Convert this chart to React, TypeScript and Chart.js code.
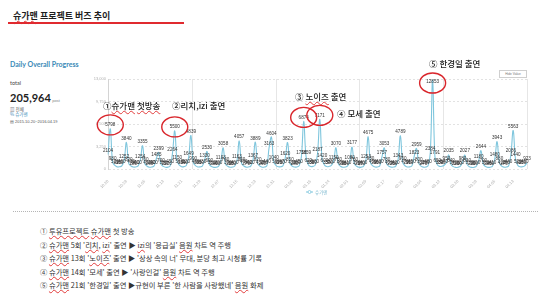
import React, { useEffect, useRef } from 'react';
import { Chart, registerables } from 'chart.js';

Chart.register(...registerables);

// ---- data ----
const SERIES_NAME = '슈가맨';
const START = { year: 2015, month: 10, day: 20 };
const TICK_EVERY = 8;
const Y_MAX = 13000;
const Y_STEP = 3250;

// daily buzz values 2015.10.20 ~ 2016.04.19 (Tue, Wed, Thu, Fri, Sat, Sun, Mon per row)
const VALUES: number[] = [
  2104, 5798, 980, 520, 310, 330, 460,
  1252, 3840, 820, 430, 280, 300, 410,
  1254, 3355, 760, 400, 260, 290, 420,
  1485, 2399, 700, 380, 250, 270, 450,
  2264, 5500, 1150, 560, 330, 340, 520,
  1649, 4839, 990, 480, 300, 310, 430,
  1330, 2530, 690, 360, 240, 260, 390,
  1103, 3058, 740, 390, 250, 280, 400,
  1163, 4057, 860, 430, 270, 300, 420,
  1367, 3889, 820, 410, 260, 290, 440,
  3163, 4604, 1040, 500, 320, 330, 470,
  1620, 3823, 850, 420, 280, 300, 450,
  1756, 6874, 1859, 620, 360, 380, 560,
  2187, 7171, 1420, 600, 350, 370, 520,
  1150, 3070, 780, 400, 260, 280, 410,
  1080, 3177, 760, 390, 250, 270, 400,
  1253, 4675, 930, 460, 290, 300, 430,
  1757, 3053, 780, 400, 270, 280, 420,
  1343, 4789, 960, 470, 290, 310, 450,
  1823, 2959, 800, 410, 270, 290, 460,
  2384, 12853, 1791, 650, 380, 390, 540,
  950, 2035, 640, 340, 230, 250, 380,
  980, 2027, 630, 330, 230, 250, 390,
  1180, 2644, 700, 360, 240, 260, 410,
  1480, 3943, 880, 420, 270, 290, 440,
  2086, 5563, 1440, 520, 320, 330, 460,
  923,
];

// dates of annotated episode peaks (circled)
const HIGHLIGHT_DATES = ['10.21', '11.18', '01.13', '01.20', '03.09'];

const DATES: string[] = (() => {
  const out: string[] = [];
  const d = new Date(START.year, START.month - 1, START.day);
  for (let i = 0; i < VALUES.length; i++) {
    out.push(String(d.getMonth() + 1).padStart(2, '0') + '.' + String(d.getDate()).padStart(2, '0'));
    d.setDate(d.getDate() + 1);
  }
  return out;
})();

const ANNOTATIONS = [
  { text: ['①', '슈가맨', ' ', '첫방송'], wavy: [1, 3], left: 103, cy: 105 },
  { text: ['②리치,izi 출연'], wavy: [], left: 172, cy: 105 },
  { text: ['③ ', '노이즈', ' 출연'], wavy: [1], left: 295, cy: 96 },
  { text: ['④ 모세 출연'], wavy: [], left: 337, cy: 113 },
  { text: ['⑤ 한경일 출연'], wavy: [], left: 429, cy: 63 },
];

const NOTES: { parts: string[]; wavy: number[] }[] = [
  { parts: ['① ', '투유프로젝트', ' ', '슈가맨', ' 첫 방송'], wavy: [1, 3] },
  { parts: ['② ', '슈가맨', " 5회 '", '리치', ', ', 'izi', "' 출연 ▶ ", 'izi', "의 '응급실' ", '음원', ' 차트 역 주행'], wavy: [1, 3, 5, 7, 9] },
  { parts: ['③ ', '슈가맨', " 13회 '", '노이즈', "' 출연 ▶ '상상 속의 너' 무대, 분당 최고 시청률 기록"], wavy: [1, 3] },
  { parts: ['④ ', '슈가맨', " 14회 '모세' 출연 ▶ '사랑인걸' ", '음원', ' 차트 역 주행'], wavy: [1, 3] },
  { parts: ['⑤ ', '슈가맨', " 21회 '한경일' 출연 ▶규현이 부른 '한 사람을 사랑했네' ", '음원', ' 화제'], wavy: [1, 3] },
];
const NOTE_TOPS = [232, 245.5, 259, 272.5, 286];

const KR = '"Noto Sans CJK KR", "Noto Sans", sans-serif';
const LINE_COLOR = '#7fc6dd';

const overlayPlugin = {
  id: 'overlay',
  beforeDatasetsDraw(chart: any) {
    const { ctx, chartArea } = chart;
    ctx.save();
    ctx.strokeStyle = '#e6e6e6';
    ctx.lineWidth = 1;
    for (let k = 1; k <= 5; k++) {
      const x = Math.round(chartArea.left + ((chartArea.right - chartArea.left) * k) / 5) + 0.5;
      ctx.beginPath();
      ctx.moveTo(x, chartArea.top);
      ctx.lineTo(x, chartArea.bottom);
      ctx.stroke();
    }
    ctx.restore();
  },
  afterDatasetsDraw(chart: any) {
    const { ctx, chartArea } = chart;
    const meta = chart.getDatasetMeta(0);
    ctx.save();
    ctx.font = '4.6px Arial, "Liberation Sans", sans-serif';
    ctx.fillStyle = '#333';
    ctx.textAlign = 'center';
    ctx.textBaseline = 'bottom';
    meta.data.forEach((pt: any, i: number) => {
      let y = pt.y - 1.5;
      if (y - 5 < chartArea.top) y = chartArea.top + 5.5;
      ctx.fillText(String(VALUES[i]), pt.x, y);
    });
    ctx.strokeStyle = '#d9262c';
    ctx.lineWidth = 1.4;
    HIGHLIGHT_DATES.forEach((lab) => {
      const i = DATES.indexOf(lab);
      if (i < 0) return;
      const p = meta.data[i];
      let cy = p.y - 4;
      if (cy - 8 < chartArea.top) cy = chartArea.top + 4;
      ctx.beginPath();
      ctx.ellipse(p.x, cy, 13, 10, 0, 0, Math.PI * 2);
      ctx.stroke();
    });
    ctx.restore();
  },
};

function ChartCanvas() {
  const ref = useRef<HTMLCanvasElement | null>(null);
  useEffect(() => {
    if (!ref.current) return;
    const chart = new Chart(ref.current, {
      type: 'line',
      data: {
        labels: DATES,
        datasets: [
          {
            label: SERIES_NAME,
            data: VALUES,
            borderColor: LINE_COLOR,
            borderWidth: 1.1,
            pointRadius: 0,
            tension: 0.4,
            fill: false,
          },
        ],
      },
      options: {
        animation: false,
        responsive: false,
        maintainAspectRatio: false,
        layout: { padding: { top: 11, right: 15, bottom: 3, left: 0 } },
        plugins: { legend: { display: false }, tooltip: { enabled: false } },
        scales: {
          x: {
            grid: { display: false },
            border: { display: false },
            ticks: {
              autoSkip: false,
              maxRotation: 45,
              minRotation: 45,
              color: '#aaa',
              padding: 2,
              font: { size: 4, family: 'Arial' },
              callback: (_v: any, idx: number) => (idx % TICK_EVERY === 0 ? DATES[idx] : null),
            },
            afterFit: (s: any) => {
              s.height = 20;
            },
          },
          y: {
            min: 0,
            max: Y_MAX,
            ticks: { stepSize: Y_STEP, color: '#b0b0b0', padding: 2, font: { size: 4, family: 'Arial' } },
            grid: { color: '#e2e2e2', drawTicks: false },
            border: { display: true, color: '#d4d4d4', dash: [2, 2] },
            afterFit: (s: any) => {
              s.width = 28;
            },
          },
        },
      } as any,
      plugins: [overlayPlugin],
    });
    return () => chart.destroy();
  }, []);
  return (
    <canvas
      ref={ref}
      width={462}
      height={124}
      style={{ position: 'absolute', left: 80, top: 68, width: 462, height: 124 }}
    />
  );
}

function Txt(props: { left: number; cy: number; size: number; style?: any; children: any }) {
  return (
    <div
      style={{
        position: 'absolute',
        left: props.left,
        top: props.cy - props.size / 2,
        fontSize: props.size,
        lineHeight: props.size + 'px',
        whiteSpace: 'nowrap',
        ...props.style,
      }}
    >
      {props.children}
    </div>
  );
}

const wavyStyle = { textDecoration: 'underline wavy #e23b3b', textDecorationThickness: '0.6px' };

export default function App() {
  return (
    <div
      style={{
        position: 'fixed',
        left: 0,
        top: 0,
        width: 550,
        height: 306,
        background: '#fff',
        overflow: 'hidden',
        fontFamily: KR,
        color: '#222',
      }}
    >
      {/* title */}
      <Txt left={13} cy={15} size={9} style={{ fontWeight: 700, color: '#1e1e1e' }}>
        <span style={wavyStyle}>슈가맨</span> 프로젝트 버즈 추이
      </Txt>
      <div style={{ position: 'absolute', left: 8, top: 22, width: 176, height: 1.6, background: '#e02a2f' }} />

      {/* left summary panel */}
      <Txt left={10} cy={64} size={7} style={{ fontFamily: 'Lato, sans-serif', fontWeight: 700, color: '#3b8ab7' }}>
        Daily Overall Progress
      </Txt>
      <Txt left={10} cy={84} size={5.5} style={{ fontFamily: 'Lato, sans-serif', color: '#444' }}>
        total
      </Txt>
      <Txt left={10} cy={97} size={11} style={{ fontFamily: 'Lato, sans-serif', fontWeight: 700, color: '#222' }}>
        205,964
        <span style={{ fontSize: 4, fontWeight: 400, color: '#888', marginLeft: 1.5 }}>post</span>
      </Txt>
      <Txt left={10} cy={109} size={4.5} style={{ color: '#555' }}>
        ▥ 전체
      </Txt>
      <Txt left={10} cy={114} size={4.5} style={{ color: '#3b8ab7' }}>
        % 슈가맨
      </Txt>
      <Txt left={10} cy={121.5} size={4} style={{ color: '#555', fontFamily: 'Arial' }}>
        ▤ 2015.10.20~2016.04.19
      </Txt>

      <ChartCanvas />

      {/* hide value button */}
      <div
        style={{
          position: 'absolute',
          left: 499,
          top: 70,
          width: 26,
          height: 6,
          border: '0.7px solid #cfcfcf',
          fontSize: 3.2,
          lineHeight: '6px',
          textAlign: 'center',
          color: '#777',
          fontFamily: 'Arial',
          background: '#fff',
        }}
      >
        Hide Value
      </div>

      {/* legend */}
      <div style={{ position: 'absolute', left: 306, top: 189, height: 6, display: 'flex', alignItems: 'center' }}>
        <svg width={7} height={6} style={{ display: 'block' }}>
          <line x1={0} y1={3} x2={7} y2={3} stroke={LINE_COLOR} strokeWidth={1} />
          <circle cx={3.5} cy={3} r={1.5} fill="#fff" stroke={LINE_COLOR} strokeWidth={0.8} />
        </svg>
        <span style={{ fontSize: 4.5, color: '#7fbad0', marginLeft: 2 }}>{SERIES_NAME}</span>
      </div>

      {/* annotations */}
      {ANNOTATIONS.map((a, i) => (
        <Txt key={i} left={a.left} cy={a.cy} size={8.5} style={{ fontWeight: 500, color: '#222' }}>
          {a.text.map((t, j) => (
            <span key={j} style={a.wavy.includes(j) ? wavyStyle : undefined}>
              {t}
            </span>
          ))}
        </Txt>
      ))}

      {/* dotted separator */}
      <div style={{ position: 'absolute', left: 13, top: 211, width: 525, borderTop: '1px dotted #b5b5b5' }} />

      {/* notes */}
      {NOTES.map((n, i) => (
        <Txt key={i} left={40} cy={NOTE_TOPS[i]} size={7.3} style={{ color: '#333' }}>
          {n.parts.map((t, j) => (
            <span key={j} style={n.wavy.includes(j) ? wavyStyle : undefined}>
              {t}
            </span>
          ))}
        </Txt>
      ))}
    </div>
  );
}
